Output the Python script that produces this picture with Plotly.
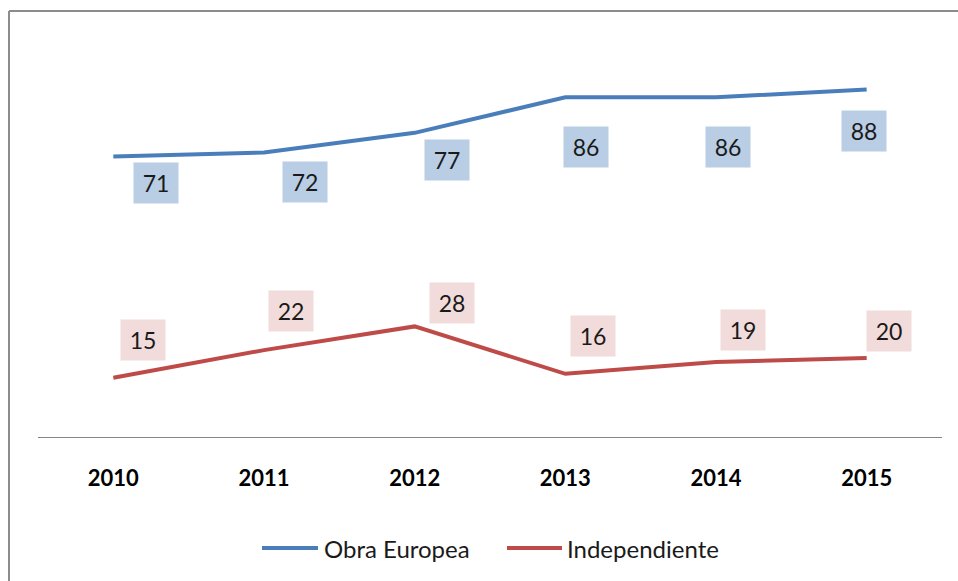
import plotly.graph_objects as go

years = ["2010", "2011", "2012", "2013", "2014", "2015"]
obra_europea = [71, 72, 77, 86, 86, 88]
independiente = [15, 22, 28, 16, 19, 20]
series_names = ["Obra Europea", "Independiente"]

BLUE = "#4A7EBB"
BLUE_BG = "#B9CDE5"
RED = "#BE4B48"
RED_BG = "#F2DCDB"
FONT = "Lato"

# label offsets (pixels) - style only
blue_off = [(43, -26), (41, -29), (32, -27), (21, -50), (12, -50), (-3, -42)]
red_off = [(30, 38), (27, 39), (37, 23), (28, 38), (27, 32), (22, 27)]

fig = go.Figure()
fig.add_trace(go.Scatter(x=years, y=obra_europea, mode="lines", name=series_names[0],
                         line=dict(color=BLUE, width=4)))
fig.add_trace(go.Scatter(x=years, y=independiente, mode="lines", name=series_names[1],
                         line=dict(color=RED, width=4)))

anns = []
for i, (v, (dx, dy)) in enumerate(zip(obra_europea, blue_off)):
    anns.append(dict(x=i, y=v, xref="x", yref="y", text=str(v), showarrow=False,
                     xshift=dx, yshift=dy, bgcolor=BLUE_BG, width=40, height=36, borderpad=2,
                     font=dict(family=FONT, size=23, color="#1a1a1a")))
for i, (v, (dx, dy)) in enumerate(zip(independiente, red_off)):
    anns.append(dict(x=i, y=v, xref="x", yref="y", text=str(v), showarrow=False,
                     xshift=dx, yshift=dy, bgcolor=RED_BG, width=40, height=36, borderpad=2,
                     font=dict(family=FONT, size=23, color="#1a1a1a")))

L, R, T, B = 38, 942, 42, 437
W, H = 958, 581
def px(x):
    return (x - L) / (R - L)
def py(y):
    return (B - y) / (B - T)

shapes = [
    dict(type="line", xref="paper", yref="paper", x0=px(9), x1=px(9), y0=py(11), y1=py(600),
         line=dict(color="#8C8C8C", width=2)),
    dict(type="line", xref="paper", yref="paper", x0=px(9), x1=px(970), y0=py(11), y1=py(11),
         line=dict(color="#8C8C8C", width=2)),
]

# manual legend (longer line samples, as in the reference)
legend_items = [(262, 318, 322, BLUE), (507, 562, 565, RED)]
for name, (lx0, lx1, tx, col) in zip(series_names, legend_items):
    shapes.append(dict(type="line", xref="paper", yref="paper", x0=px(lx0), x1=px(lx1),
                       y0=py(548), y1=py(548), line=dict(color=col, width=4)))
    anns.append(dict(x=px(tx), y=py(548), xref="paper", yref="paper", text=name,
                     showarrow=False, xanchor="left", yanchor="middle",
                     font=dict(family=FONT, size=24, color="#1a1a1a")))

fig.update_layout(
    width=W, height=H,
    margin=dict(l=L, r=W - R, t=T, b=H - B),
    paper_bgcolor="white", plot_bgcolor="white",
    showlegend=False,
    xaxis=dict(type="category", range=[-0.5, 5.5], showgrid=False, zeroline=False,
               showline=False, ticks="", ticklabelstandoff=26,
               tickfont=dict(family=FONT, size=22, color="black", weight="bold")),
    yaxis=dict(range=[0, 100], showgrid=False, zeroline=True, zerolinecolor="#868686",
               zerolinewidth=1, showticklabels=False, ticks="", showline=False),
    annotations=anns,
    shapes=shapes,
)

fig.write_html("out.html")
